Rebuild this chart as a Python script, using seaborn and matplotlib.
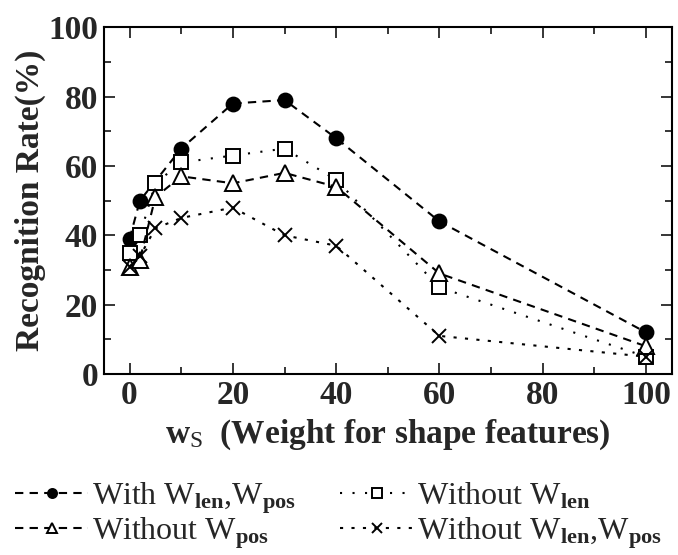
import matplotlib
matplotlib.use("Agg")
import matplotlib.pyplot as plt
import seaborn as sns
from matplotlib.ticker import MultipleLocator

# Values
x_with = [0, 2, 10, 20, 30, 40, 60, 100]
y_with = [39, 50, 65, 78, 79, 68, 44, 12]

x_rest = [0, 2, 5, 10, 20, 30, 40, 60, 100]
y_no_len = [35, 40, 55, 61, 63, 65, 56, 25, 5]
y_no_pos = [31, 33, 51, 57, 55, 58, 54, 29, 8]
y_no_both = [31, 34, 42, 45, 48, 40, 37, 11, 5]

labels = [
    r"With W$_{\mathbf{len}}$,W$_{\mathbf{pos}}$",
    r"Without W$_{\mathbf{len}}$",
    r"Without W$_{\mathbf{pos}}$",
    r"Without W$_{\mathbf{len}}$,W$_{\mathbf{pos}}$",
]

sns.set_style("ticks")
plt.rcParams['font.family'] = ['Liberation Serif', 'DejaVu Serif']
plt.rcParams['mathtext.fontset'] = 'custom'
plt.rcParams['mathtext.rm'] = 'Liberation Serif'
plt.rcParams['mathtext.it'] = 'Liberation Serif:italic'
plt.rcParams['mathtext.bf'] = 'Liberation Serif:bold'

DPI = 100
fig = plt.figure(figsize=(6.78, 5.55), dpi=DPI)
ax = fig.add_axes([0.153, 0.326, 0.838, 0.625])

series = [
    (x_with, y_with, dict(marker='o', markersize=10, markerfacecolor='black'), (4, 3)),
    (x_rest, y_no_len, dict(marker='s', markersize=10, markerfacecolor='white'), (1, 5)),
    (x_rest, y_no_pos, dict(marker='^', markersize=11, markerfacecolor='white'), (4, 3)),
    (x_rest, y_no_both, dict(marker='x', markersize=10), (1.5, 4)),
]

handles = []
for (xs, ys, kw, dashes), lab in zip(series, labels):
    sns.lineplot(x=xs, y=ys, ax=ax, color='black', linewidth=1.5,
                 markeredgecolor='black', markeredgewidth=1.4, label=lab, **kw)
    line = ax.get_lines()[-1]
    line.set_dashes(dashes)
    handles.append(line)

ax.set_xlim(-5, 105)
ax.set_ylim(0, 100)
ax.xaxis.set_major_locator(MultipleLocator(20))
ax.xaxis.set_minor_locator(MultipleLocator(10))
ax.yaxis.set_major_locator(MultipleLocator(20))
ax.yaxis.set_minor_locator(MultipleLocator(10))
ax.tick_params(which='both', direction='in', top=True, right=True, width=1.3)
ax.tick_params(which='major', length=8, labelsize=24, pad=4)
ax.tick_params(which='minor', length=5)
for lbl in ax.get_xticklabels() + ax.get_yticklabels():
    lbl.set_fontweight('bold')
for sp in ax.spines.values():
    sp.set_linewidth(1.5)
    sp.set_color('black')

ax.set_xlabel(r"w$_{\mathrm{S}}$  (Weight for shape features)", fontsize=24,
              fontweight='bold', labelpad=5)
ax.set_ylabel("Recognition Rate(%)", fontsize=24, fontweight='bold', labelpad=2)
ax.get_legend().remove()

# legend: one legend per row so the texts share a baseline,
# column spacing tuned so the second column starts at the same x in both rows
LEG_FS = 23
fs_px = LEG_FS * DPI / 72.0
col2_x = 340
rows = [([handles[0], handles[1]], [labels[0], labels[1]], 39),
        ([handles[2], handles[3]], [labels[2], labels[3]], 4)]

leg_kw = dict(loc='lower left', ncol=2, frameon=False, fontsize=LEG_FS,
              markerscale=0.65, handlelength=2.3, handletextpad=0.12,
              labelspacing=0.0, borderpad=0.0, borderaxespad=0.0)

renderer = fig.canvas.get_renderer()
for hs, ls, ybot in rows:
    anchor = (15 / 678, ybot / 555)
    leg = fig.legend(hs, ls, bbox_to_anchor=anchor, columnspacing=1.0, **leg_kw)
    fig.canvas.draw()
    right = leg.get_texts()[0].get_window_extent(renderer).x1
    leg.remove()
    sep = (col2_x - right) / fs_px
    fig.legend(hs, ls, bbox_to_anchor=anchor, columnspacing=sep, **leg_kw)

fig.savefig("out.png", dpi=DPI)
